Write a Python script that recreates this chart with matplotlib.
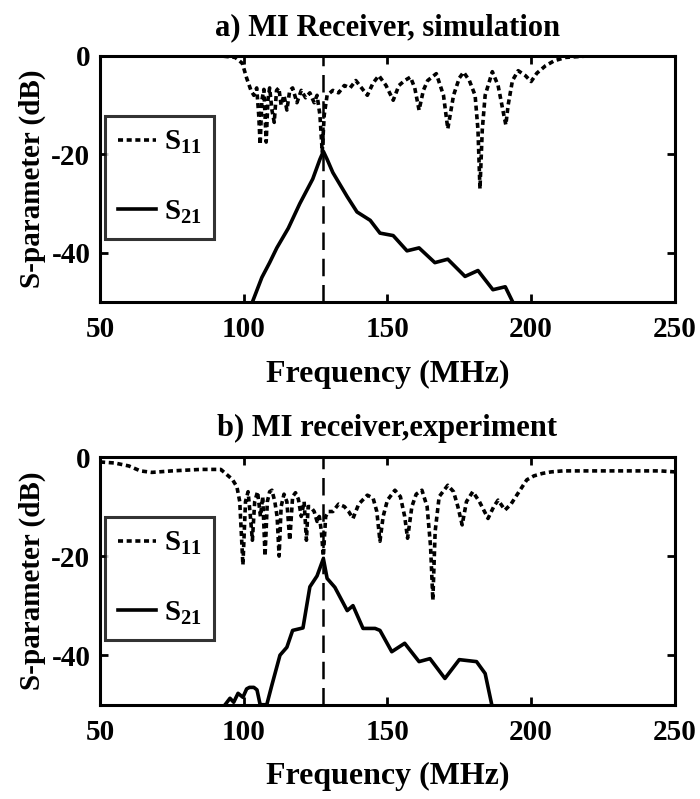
import matplotlib
matplotlib.use("Agg")
import matplotlib.pyplot as plt

plt.rcParams['font.family'] = ['Liberation Serif', 'DejaVu Serif']
plt.rcParams['font.weight'] = 'bold'
plt.rcParams['mathtext.default'] = 'regular'
plt.rcParams['axes.unicode_minus'] = False

# --- a) simulation ---
sim_s11_f = [87, 92, 97, 99.5, 101, 102.5, 103.5, 104.5, 105.2, 105.7, 106.3, 107, 107.8,
             108.4, 109, 109.8, 110.6, 111.4, 112.2, 113, 114, 115, 116, 117, 118.5, 120,
             121.5, 123, 124.5, 125.5, 126.5, 127.3, 128, 129, 131, 133, 135, 137, 139,
             141, 143, 145, 147, 149.5, 152, 154, 156, 158, 159.5, 161, 162.5, 164, 167,
             169.5, 171, 173, 175, 176.5, 178.5, 180.5, 181.5, 182.2, 183, 184, 186.5,
             188.5, 190.5, 191.2, 192, 193.5, 195.5, 198, 200, 202, 205, 208, 212, 220, 235]
sim_s11_db = [0, 0, -0.3, -1.5, -4.5, -7, -8, -6.5, -12, -18, -9, -6.8, -17.5,
              -9, -6.5, -11, -13.5, -7, -6.5, -10, -8, -11, -7, -6.5, -9.5, -7,
              -8.5, -7.5, -9.5, -8, -12, -19.5, -12, -8, -7, -7.5, -6, -6.5, -5,
              -6.5, -8, -5.5, -4, -6, -9, -6, -5, -4.3, -6.5, -11, -7, -5, -3.6,
              -8, -14.8, -8, -4.5, -3.3, -5, -8, -15, -27, -15, -8, -3.2,
              -6, -12, -14, -10, -5, -3, -4, -5.2, -3.5, -2, -1, -0.3, 0, 0]

sim_s21_f = [103, 106.3, 109, 111.5, 115.5, 119.5, 124, 126.5, 127.7, 129, 131, 136, 139.4,
             144, 147.4, 152, 156.8, 161, 166.5, 171, 177, 181.5, 186.7, 191, 193.6]
sim_s21_db = [-50, -45, -42, -39, -35, -30, -25, -21, -19.4, -21, -23.7, -28.6, -31.7,
              -33.4, -36, -36.5, -39.6, -39, -42, -41.3, -44.8, -43.6, -47.5, -46.9, -50]

# --- b) experiment ---
exp_s11_f = [50, 55, 60, 64, 68, 75, 85, 92, 94, 96, 97.6, 98.6, 99.7, 100.6, 101.5, 102.3,
             103, 103.8, 104.8, 105.8, 106.6, 107.4, 108.2, 109, 109.8, 110.8, 111.6, 112.3,
             113, 114, 115, 116, 117, 118, 119, 120, 121, 121.8, 122.4, 123.2, 124.5, 125.5,
             126.3, 127, 127.7, 128.5, 129.5, 131, 133, 135, 136.5, 138, 140, 143, 145,
             146.3, 147.4, 148.5, 150, 152.6, 154.5, 156, 157, 158.5, 160, 162, 163.8, 165,
             165.8, 166.6, 168, 171, 173, 174.5, 176, 177.5, 179.7, 182, 185, 187, 188.5,
             190.9, 193, 195, 198.5, 201, 204, 207, 211, 220, 235, 245, 250]
exp_s11_db = [-1, -1.2, -1.8, -2.8, -3.1, -2.8, -2.5, -2.5, -3.5, -4.5, -6, -9, -21.8, -9,
              -7, -12, -16.8, -9, -7, -12, -8, -20, -9, -7, -6.7, -9, -12, -20,
              -10, -7.5, -9, -16.8, -8, -7.2, -8.5, -12, -9, -16.8, -10, -10, -11, -13,
              -12, -15, -20, -12, -11, -11, -9.5, -10, -11, -12.4, -9.5, -7.7, -8.3,
              -11, -17, -12, -8.7, -6.7, -8, -12, -16.4, -10, -7.5, -6.7, -10, -18,
              -28.9, -15, -8, -5.7, -7, -10, -13.7, -9, -7, -9, -12.4, -10, -8.7,
              -10.7, -9.5, -7.7, -4.6, -3.8, -3.3, -3, -2.8, -2.8, -2.8, -2.8, -3]

exp_s21_f = [93.5, 95.2, 96.5, 98, 99.7, 101, 102, 103.5, 104.6, 105.7, 106, 108, 109.8,
             112.6, 115, 117, 120.6, 123, 125.5, 127.7, 129, 131.7, 136, 138, 141.5,
             145.7, 147.4, 151.5, 156, 161, 164.8, 170, 175, 181, 184, 186.3]
exp_s21_db = [-50, -48.7, -49.5, -47.7, -48.5, -46.8, -46.5, -46.5, -47, -50, -50, -50, -46,
              -40, -38.4, -35, -34.5, -26.2, -24, -20.5, -24.5, -26.3, -31, -30, -34.6,
              -34.6, -35, -39.3, -37.6, -41.3, -40.7, -44.7, -40.9, -41.3, -43.7, -50]

f_marker = 127.7
titles = ['a) MI Receiver, simulation', 'b) MI receiver,experiment']
panels = [(sim_s11_f, sim_s11_db, sim_s21_f, sim_s21_db),
          (exp_s11_f, exp_s11_db, exp_s21_f, exp_s21_db)]

fig = plt.figure(figsize=(7, 7.99), dpi=100)
axes_pos = [[0.143, 0.622, 0.821, 0.308], [0.143, 0.118, 0.821, 0.310]]
legend_top = [0.756, 0.758]

for pos, (f11, s11, f21, s21), title, ltop in zip(axes_pos, panels, titles, legend_top):
    ax = fig.add_axes(pos)
    ax.plot(f11, s11, color='black', lw=2.6, linestyle=(0, (1.4, 1.0)), label='S$_{11}$')
    ax.plot(f21, s21, color='black', lw=2.6, label='S$_{21}$')
    ax.axvline(f_marker, color='black', lw=1.8, linestyle=(0, (7, 3.5)))

    ax.set_xlim(50, 250)
    ax.set_ylim(-50, 0)
    ax.set_xticks([50, 100, 150, 200, 250])
    ax.set_yticks([0, -20, -40])
    ax.tick_params(direction='in', length=6, width=2, top=True, right=True, labelsize=21)
    ax.tick_params(axis='x', pad=10)
    ax.tick_params(axis='y', pad=7)
    for sp in ax.spines.values():
        sp.set_linewidth(2.2)

    ax.set_title(title, fontsize=22, fontweight='bold', pad=15)
    ax.set_xlabel('Frequency (MHz)', fontsize=23, fontweight='bold', labelpad=12)
    ax.set_ylabel('S-parameter (dB)', fontsize=21, fontweight='bold', labelpad=4)

    leg = ax.legend(loc='upper left', bbox_to_anchor=(0.009, ltop), borderaxespad=0,
                    fontsize=21, handlelength=1.3, handletextpad=0.25,
                    labelspacing=1.45, borderpad=0.45, fancybox=False, frameon=True,
                    edgecolor='black')
    leg.get_frame().set_linewidth(2.2)

fig.savefig('out.png', dpi=100)
